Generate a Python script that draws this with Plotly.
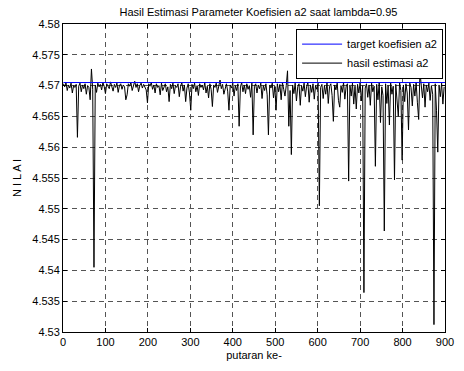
import plotly.graph_objects as go

# iteration index (putaran ke-), sampled every 3 iterations
putaran = list(range(1, 900, 3))

hasil_estimasi_a2 = [
    4.5703, 4.5698, 4.5705, 4.5692, 4.5701, 4.5696, 4.5704, 4.5688, 4.5700, 4.5697,
    4.5702, 4.5616, 4.5699, 4.5704, 4.5690, 4.5701, 4.5695, 4.5703, 4.5686, 4.5700,
    4.5697, 4.5677, 4.5727, 4.5694, 4.5405, 4.5701, 4.5689, 4.5704, 4.5698, 4.5702,
    4.5693, 4.5705, 4.5699, 4.5687, 4.5703, 4.5700, 4.5695, 4.5706, 4.5698, 4.5691,
    4.5702, 4.5697, 4.5704, 4.5689, 4.5700, 4.5703, 4.5694, 4.5701, 4.5698, 4.5677,
    4.5685, 4.5703, 4.5699, 4.5705, 4.5692, 4.5701, 4.5707, 4.5697, 4.5703, 4.5690,
    4.5700, 4.5704, 4.5696, 4.5702, 4.5698, 4.5693, 4.5672, 4.5703, 4.5699, 4.5705,
    4.5694, 4.5701, 4.5688, 4.5703, 4.5697, 4.5700, 4.5685, 4.5704, 4.5692, 4.5699,
    4.5703, 4.5690, 4.5698, 4.5674, 4.5702, 4.5695, 4.5704, 4.5687, 4.5700, 4.5697,
    4.5703, 4.5682, 4.5699, 4.5705, 4.5691, 4.5701, 4.5674, 4.5696, 4.5703, 4.5688,
    4.5660, 4.5702, 4.5695, 4.5704, 4.5690, 4.5700, 4.5684, 4.5703, 4.5697, 4.5701,
    4.5693, 4.5705, 4.5688, 4.5699, 4.5680, 4.5703, 4.5694, 4.5666, 4.5701, 4.5697,
    4.5704, 4.5689, 4.5700, 4.5709, 4.5695, 4.5702, 4.5686, 4.5698, 4.5703, 4.5691,
    4.5660, 4.5701, 4.5696, 4.5704, 4.5683, 4.5700, 4.5692, 4.5703, 4.5634, 4.5698,
    4.5705, 4.5690, 4.5701, 4.5687, 4.5703, 4.5694, 4.5700, 4.5681, 4.5704, 4.5620,
    4.5699, 4.5703, 4.5688, 4.5701, 4.5695, 4.5704, 4.5679, 4.5700, 4.5692, 4.5703,
    4.5685, 4.5620, 4.5701, 4.5696, 4.5704, 4.5680, 4.5699, 4.5660, 4.5703, 4.5690,
    4.5702, 4.5677, 4.5705, 4.5694, 4.5683, 4.5700, 4.5724, 4.5634, 4.5692, 4.5588,
    4.5701, 4.5687, 4.5704, 4.5675, 4.5698, 4.5703, 4.5668, 4.5700, 4.5691, 4.5704,
    4.5682, 4.5699, 4.5705, 4.5673, 4.5701, 4.5689, 4.5703, 4.5678, 4.5700, 4.5694,
    4.5704, 4.5505, 4.5697, 4.5702, 4.5679, 4.5700, 4.5686, 4.5705, 4.5671, 4.5699,
    4.5703, 4.5684, 4.5642, 4.5701, 4.5693, 4.5704, 4.5676, 4.5665, 4.5700, 4.5689,
    4.5705, 4.5678, 4.5698, 4.5703, 4.5545, 4.5701, 4.5683, 4.5704, 4.5670, 4.5699,
    4.5662, 4.5702, 4.5688, 4.5705, 4.5675, 4.5700, 4.5364, 4.5696, 4.5703, 4.5681,
    4.5701, 4.5668, 4.5704, 4.5690, 4.5699, 4.5569, 4.5702, 4.5677, 4.5705, 4.5640,
    4.5698, 4.5684, 4.5464, 4.5703, 4.5671, 4.5700, 4.5636, 4.5704, 4.5686, 4.5699,
    4.5547, 4.5702, 4.5679, 4.5650, 4.5705, 4.5692, 4.5579, 4.5701, 4.5674, 4.5703,
    4.5688, 4.5628, 4.5704, 4.5697, 4.5667, 4.5702, 4.5683, 4.5705, 4.5672, 4.5645,
    4.5722, 4.5699, 4.5680, 4.5703, 4.5665, 4.5701, 4.5690, 4.5704, 4.5676, 4.5700,
    4.5686, 4.5312, 4.5703, 4.5660, 4.5592, 4.5701, 4.5682, 4.5704, 4.5670, 4.5698,
]

target_x = [1, 900]
target_a2 = [4.5705, 4.5705]

x_ticks = [0, 100, 200, 300, 400, 500, 600, 700, 800, 900]
y_ticks = [4.53, 4.535, 4.54, 4.545, 4.55, 4.555, 4.56, 4.565, 4.57, 4.575, 4.58]
y_labels = ["4.53", "4.535", "4.54", "4.545", "4.55", "4.555", "4.56", "4.565", "4.57", "4.575", "4.58"]

FONT = "Liberation Sans, Arial, sans-serif"

fig = go.Figure()
fig.add_trace(go.Scatter(
    x=putaran, y=hasil_estimasi_a2, mode="lines", name="hasil estimasi a2",
    line=dict(color="black", width=1), legendrank=2,
))
fig.add_trace(go.Scatter(
    x=target_x, y=target_a2, mode="lines", name="target koefisien a2",
    line=dict(color="blue", width=1), legendrank=1,
))

axis_common = dict(
    showline=True, linecolor="black", linewidth=1, mirror="ticks",
    ticks="inside", ticklen=4, tickcolor="black",
    showgrid=True, gridcolor="#555555", gridwidth=1, griddash="5px,4px",
    zeroline=False, tickfont=dict(family=FONT, size=11, color="black"),
)

fig.update_xaxes(
    range=[0, 900], tickvals=x_ticks, ticktext=[str(v) for v in x_ticks],
    title=dict(text="putaran ke-", font=dict(family=FONT, size=11, color="black"), standoff=4),
    **axis_common,
)
fig.update_yaxes(
    range=[4.53, 4.58], tickvals=y_ticks, ticktext=y_labels,
    title=dict(text="N I L A I", font=dict(family=FONT, size=11, color="black"), standoff=8),
    **axis_common,
)

fig.update_layout(
    width=464, height=371,
    margin=dict(l=63, r=10, t=24, b=39),
    paper_bgcolor="white", plot_bgcolor="white",
    title=dict(text="Hasil Estimasi Parameter Koefisien a2 saat lambda=0.95",
               x=0.557, xanchor="center", y=0.968, yanchor="middle",
               font=dict(family=FONT, size=11, color="black")),
    showlegend=True,
    legend=dict(x=0.995, xanchor="right", y=0.985, yanchor="top",
                bgcolor="white", bordercolor="black", borderwidth=1,
                font=dict(family=FONT, size=11, color="black"),
                tracegroupgap=0, itemwidth=40),
)

fig.write_html("out.html")
